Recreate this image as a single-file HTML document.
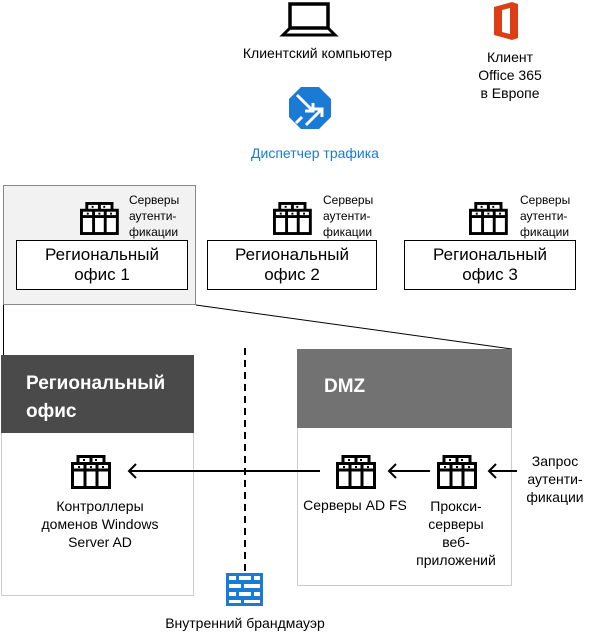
<!DOCTYPE html>
<html><head><meta charset="utf-8"><style>
body{margin:0;width:593px;height:641px;background:#fff;position:relative;overflow:hidden;font-family:"Segoe UI","Liberation Sans","DejaVu Sans",sans-serif;}
.t{position:absolute;white-space:nowrap;color:#000;}
.c{text-align:center;}
</style></head><body>
<svg width="593" height="641" style="position:absolute;left:0;top:0">
<defs>
<g id="srv" fill="none" stroke="#000" stroke-width="3">
<rect x="7" y="1.5" width="26" height="8" fill="#fff"/>
<rect x="1.5" y="8.5" width="37" height="24" fill="#fff"/>
<line x1="14" y1="8.5" x2="14" y2="32.5"/><line x1="26" y1="8.5" x2="26" y2="32.5"/>
<line x1="1.5" y1="15" x2="38.5" y2="15"/>
<line x1="20" y1="1.5" x2="20" y2="8.5"/>
<rect x="12" y="4" width="2" height="2" fill="#000" stroke="none"/><rect x="24" y="4" width="2" height="2" fill="#000" stroke="none"/>
<rect x="7" y="11" width="2" height="2" fill="#000" stroke="none"/><rect x="19" y="11" width="2" height="2" fill="#000" stroke="none"/><rect x="31" y="11" width="2" height="2" fill="#000" stroke="none"/>
</g>
</defs>
<rect x="290" y="4" width="38" height="24" fill="none" stroke="#000" stroke-width="3.5"/>
<path d="M290 28 L283 35 L335 35 L328 28" fill="none" stroke="#000" stroke-width="3"/>
<path d="M494 7 L512 2 L518 4 L518 38 L512 40 L494 35 Z" fill="#dc3e15"/>
<path d="M502 10 L510 8 L510 34 L502 32 Z" fill="#fff"/>
<polygon points="301,87 319,87 331,99 331,117 319,129 301,129 289,117 289,99" fill="#1a7ad4"/>
<g stroke="#fff" stroke-width="3" fill="none">
<path d="M297 95 L313 111 M305 111 L313 111 L313 103"/>
<path d="M306 125 L322 109 M314 109 L322 109 L322 117"/>
<path d="M296 123 L302 117"/>
</g>
<rect x="3.5" y="185.5" width="192" height="119" fill="#f2f2f2" stroke="#888"/>
<line x1="3.5" y1="305" x2="3.5" y2="356" stroke="#000"/>
<line x1="196" y1="305" x2="512" y2="349" stroke="#000"/>
<rect x="16.5" y="240.5" width="171" height="49" fill="#fff" stroke="#000"/>
<rect x="207.5" y="240.5" width="169" height="49" fill="#fff" stroke="#000"/>
<rect x="404.5" y="240.5" width="171" height="49" fill="#fff" stroke="#000"/>
<use href="#srv" transform="translate(80,202) scale(0.97)"/>
<use href="#srv" transform="translate(273,202) scale(0.97)"/>
<use href="#srv" transform="translate(469,202) scale(0.97)"/>
<rect x="1.5" y="355.5" width="192" height="240" fill="#fff" stroke="#ccc"/>
<rect x="1" y="355" width="193" height="78" fill="#4a4a4a"/>
<rect x="297.5" y="349.5" width="214" height="236" fill="#fff" stroke="#ccc"/>
<rect x="297" y="349" width="215" height="79" fill="#727272"/>
<line x1="245" y1="348" x2="245" y2="573" stroke="#000" stroke-width="2" stroke-dasharray="7,5"/>
<use href="#srv" transform="translate(71,455)"/>
<use href="#srv" transform="translate(336,455)"/>
<use href="#srv" transform="translate(437,455)"/>
<g stroke="#000" stroke-width="2" fill="none">
<line x1="320" y1="471" x2="129" y2="471"/><path d="M136 464 L129 471 L136 478"/>
<line x1="430" y1="471" x2="389" y2="471"/><path d="M396 464 L389 471 L396 478"/>
<line x1="517" y1="471" x2="489" y2="471"/><path d="M496 464 L489 471 L496 478"/>
</g>
<rect x="226" y="573" width="37" height="33" fill="#1a7ad4"/>
<g fill="#fff">
<rect x="229" y="576" width="7" height="4"/><rect x="239" y="576" width="12" height="4"/><rect x="254" y="576" width="6" height="4"/>
<rect x="229" y="584" width="12" height="4"/><rect x="244" y="584" width="16" height="4"/>
<rect x="229" y="592" width="7" height="4"/><rect x="239" y="592" width="12" height="4"/><rect x="254" y="592" width="6" height="4"/>
<rect x="229" y="600" width="12" height="3"/><rect x="244" y="600" width="16" height="3"/>
</g>
</svg>
<div class="t" style="left:230px;top:45px;width:175px;text-align:center;font-size:14px;">Клиентский компьютер</div>
<div class="t c" style="left:460px;top:48px;width:100px;font-size:14px;line-height:18px;">Клиент<br>Office 365<br>в Европе</div>
<div class="t" style="left:230px;top:145px;width:170px;text-align:center;font-size:14px;color:#1a7ad4;">Диспетчер трафика</div>
<div class="t" style="left:129px;top:192px;font-size:12px;line-height:16px;">Серверы<br>аутенти-<br>фикации</div>
<div class="t" style="left:323px;top:192px;font-size:12px;line-height:16px;">Серверы<br>аутенти-<br>фикации</div>
<div class="t" style="left:520px;top:192px;font-size:12px;line-height:16px;">Серверы<br>аутенти-<br>фикации</div>
<div class="t c" style="left:16px;top:245px;width:172px;font-size:17px;line-height:20px;">Региональный<br>офис 1</div>
<div class="t c" style="left:207px;top:245px;width:170px;font-size:17px;line-height:20px;">Региональный<br>офис 2</div>
<div class="t c" style="left:404px;top:245px;width:172px;font-size:17px;line-height:20px;">Региональный<br>офис 3</div>
<div class="t" style="left:26px;top:370px;font-size:19px;line-height:28px;font-weight:bold;color:#fff;">Региональный<br>офис</div>
<div class="t" style="left:324px;top:376px;font-size:19px;font-weight:bold;color:#fff;">DMZ</div>
<div class="t c" style="left:20px;top:497px;width:160px;font-size:14px;line-height:18px;">Контроллеры<br>доменов Windows<br>Server AD</div>
<div class="t c" style="left:300px;top:497px;width:110px;font-size:14px;">Серверы AD FS</div>
<div class="t c" style="left:410px;top:497px;width:92px;font-size:14px;line-height:18px;">Прокси-<br>серверы<br>веб-<br>приложений</div>
<div class="t c" style="left:515px;top:452px;width:80px;font-size:14px;line-height:18px;">Запрос<br>аутенти-<br>фикации</div>
<div class="t c" style="left:145px;top:615px;width:200px;font-size:14px;">Внутренний брандмауэр</div>
</body></html>
